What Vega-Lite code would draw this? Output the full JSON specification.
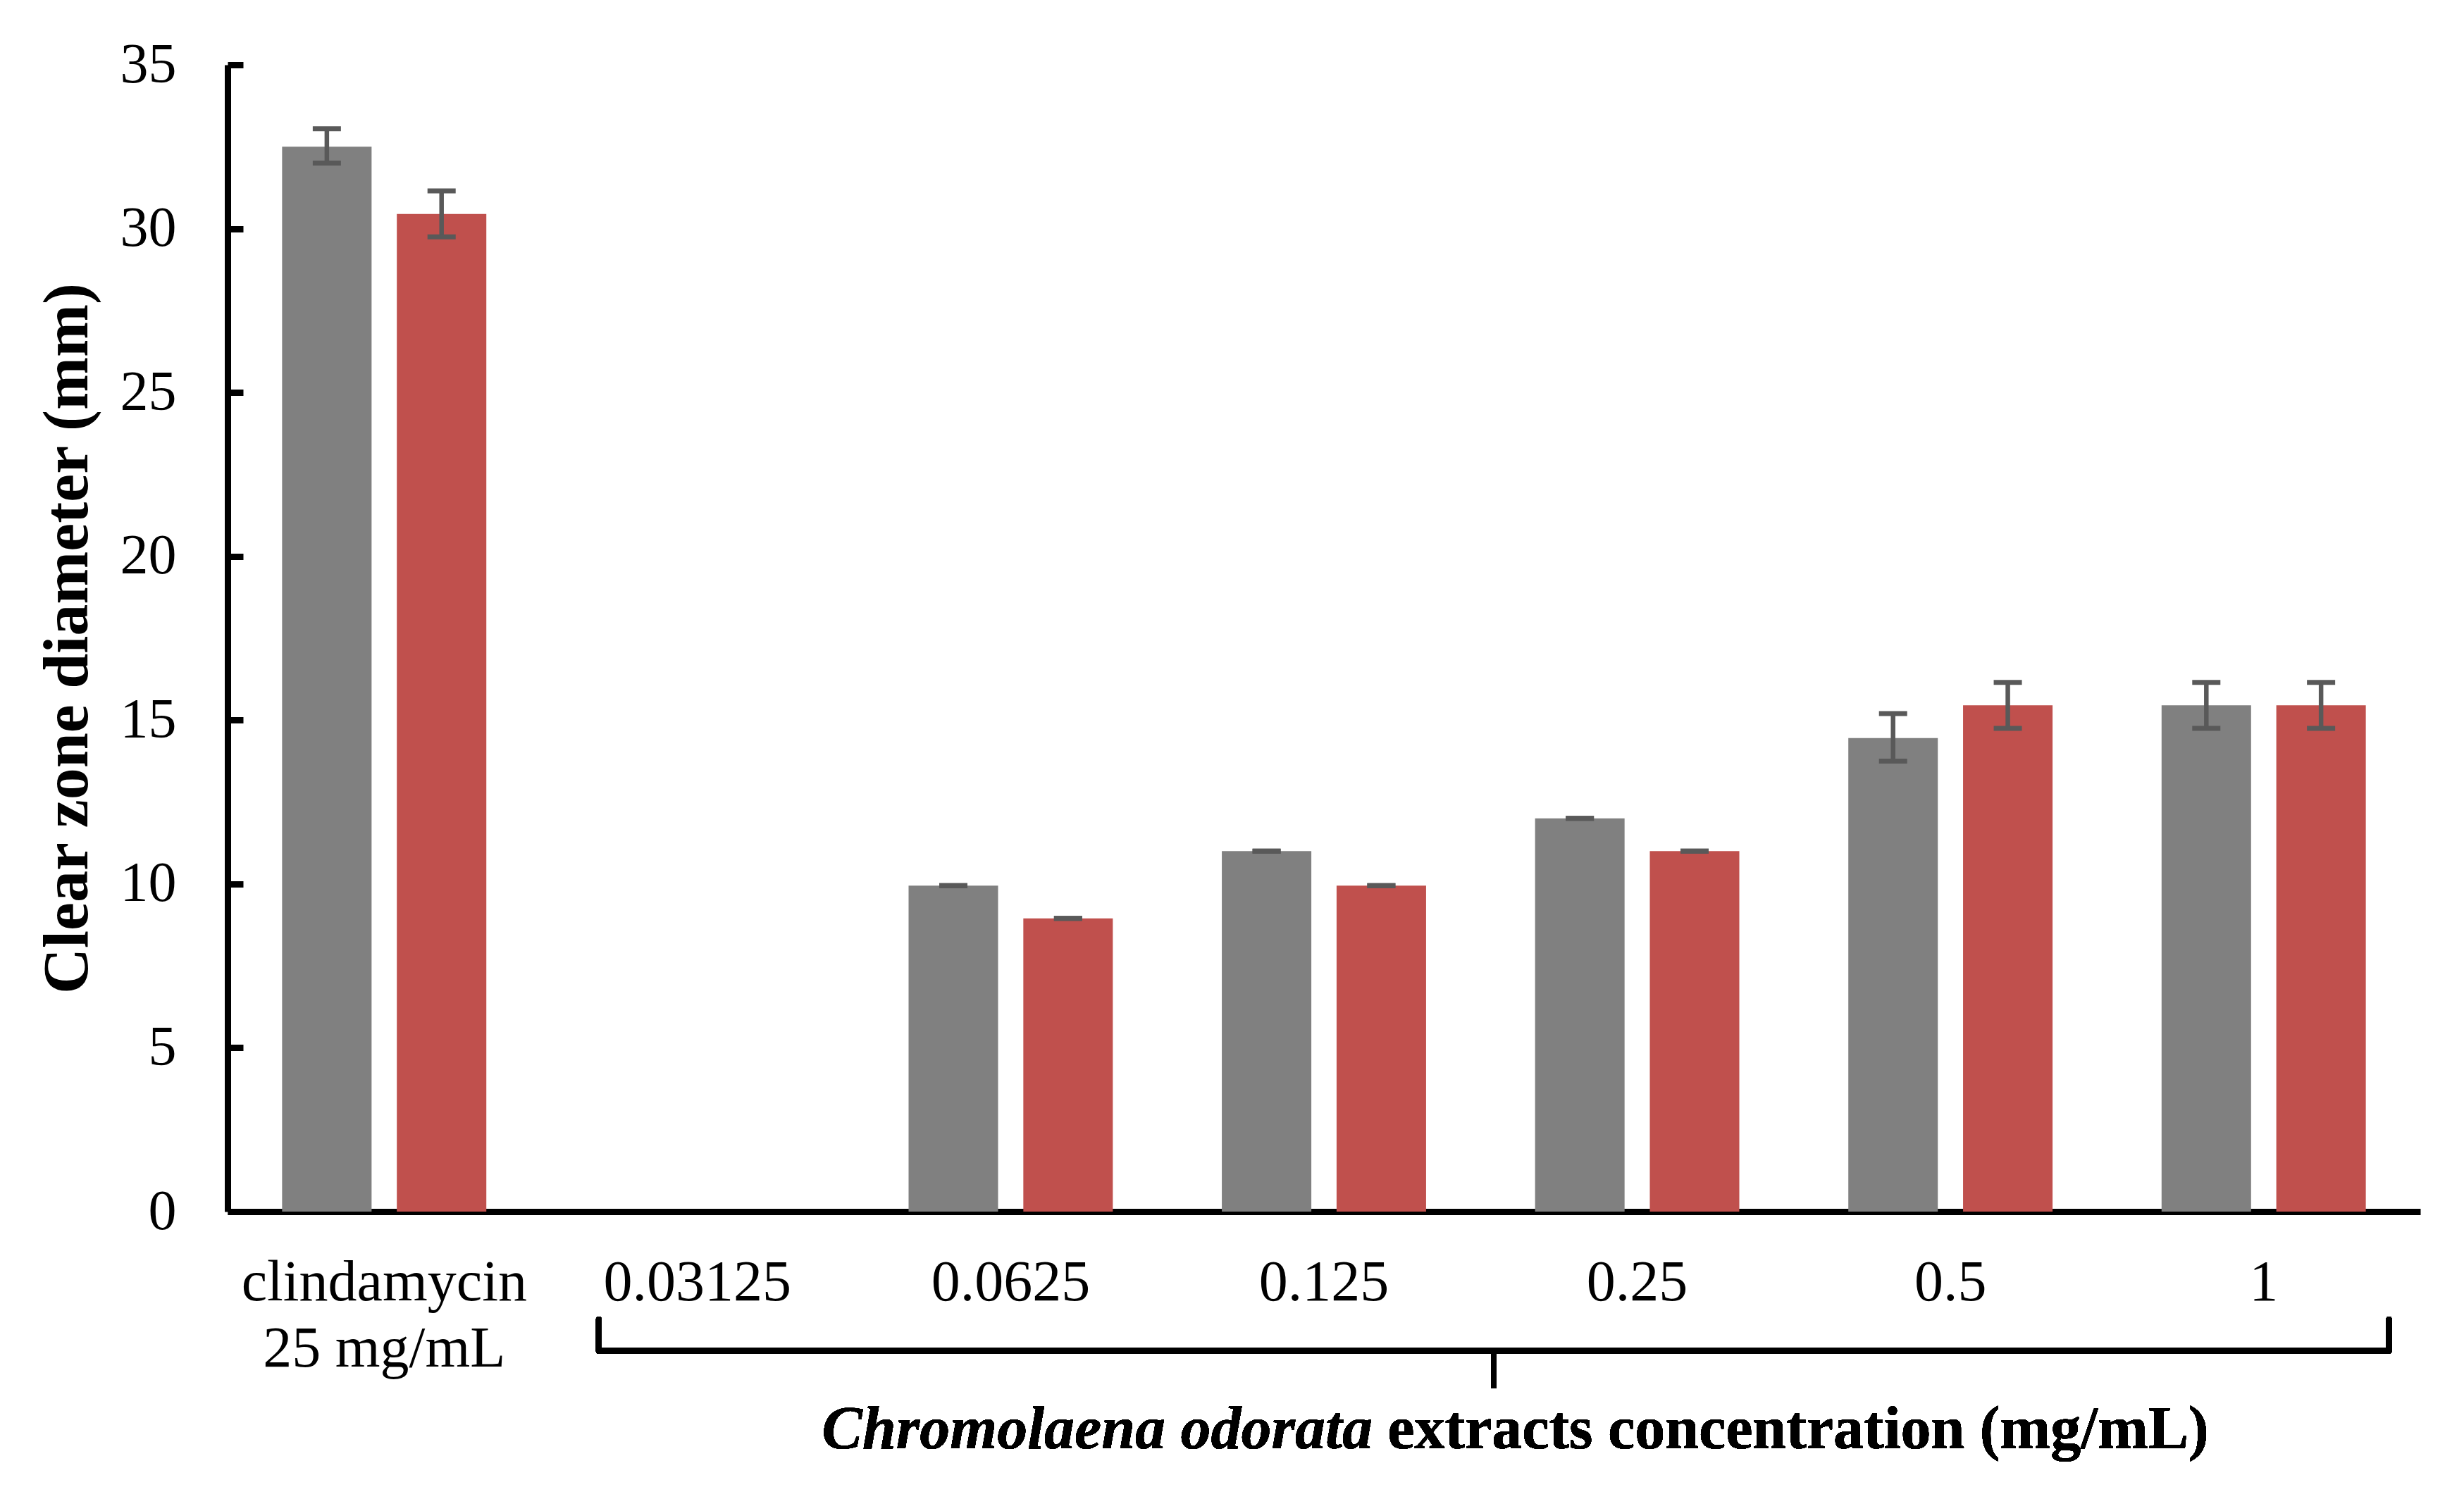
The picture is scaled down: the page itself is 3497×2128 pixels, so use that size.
{
  "$schema": "https://vega.github.io/schema/vega-lite/v6.json",
  "width": 3112,
  "height": 1628,
  "autosize": {"type": "none"},
  "padding": {"left": 323, "top": 92, "right": 62, "bottom": 408},
  "background": "white",
  "config": {"view": {"stroke": null}, "font": "Liberation Serif"},
  "data": {"values": [
    {"cat": "clindamycin 25 mg/mL", "series": "Series 1", "value": 32.5, "low": 32.0, "high": 33.05},
    {"cat": "clindamycin 25 mg/mL", "series": "Series 2", "value": 30.45, "low": 29.75, "high": 31.15},
    {"cat": "0.03125", "series": "Series 1", "value": 0, "low": null, "high": null},
    {"cat": "0.03125", "series": "Series 2", "value": 0, "low": null, "high": null},
    {"cat": "0.0625", "series": "Series 1", "value": 9.95, "low": 9.95, "high": 9.95},
    {"cat": "0.0625", "series": "Series 2", "value": 8.95, "low": 8.95, "high": 8.95},
    {"cat": "0.125", "series": "Series 1", "value": 11.0, "low": 11.0, "high": 11.0},
    {"cat": "0.125", "series": "Series 2", "value": 9.95, "low": 9.95, "high": 9.95},
    {"cat": "0.25", "series": "Series 1", "value": 12.0, "low": 12.0, "high": 12.0},
    {"cat": "0.25", "series": "Series 2", "value": 11.0, "low": 11.0, "high": 11.0},
    {"cat": "0.5", "series": "Series 1", "value": 14.45, "low": 13.75, "high": 15.2},
    {"cat": "0.5", "series": "Series 2", "value": 15.45, "low": 14.75, "high": 16.15},
    {"cat": "1", "series": "Series 1", "value": 15.45, "low": 14.75, "high": 16.15},
    {"cat": "1", "series": "Series 2", "value": 15.45, "low": 14.75, "high": 16.15}
  ]},
  "resolve": {"scale": {"x": "independent"}},
  "layer": [
    {
      "encoding": {
        "x": {
          "field": "cat", "type": "nominal",
          "sort": ["clindamycin 25 mg/mL", "0.03125", "0.0625", "0.125", "0.25", "0.5", "1"],
          "scale": {"paddingInner": 0.348, "paddingOuter": 0.174},
          "axis": {
            "title": null, "ticks": false, "labelAngle": 0, "labelLimit": 0,
            "labelFont": "Liberation Serif", "labelFontSize": 82, "labelColor": "black",
            "labelPadding": 60, "labelLineHeight": 94, "labelBaseline": "top",
            "domainColor": "black", "domainWidth": 9,
            "labelExpr": "datum.value == 'clindamycin 25 mg/mL' ? ['clindamycin', '25 mg/mL'] : datum.label"
          }
        },
        "xOffset": {"field": "series", "type": "nominal", "scale": {"paddingInner": 0.22, "paddingOuter": 0}}
      },
      "layer": [
        {
          "mark": {"type": "bar"},
          "encoding": {
            "y": {
              "field": "value", "type": "quantitative",
              "scale": {"domain": [0, 35], "nice": false},
              "axis": {
                "values": [0, 5, 10, 15, 20, 25, 30, 35],
                "title": "Clear zone diameter (mm)",
                "titleFont": "Liberation Serif", "titleFontSize": 90, "titleFontWeight": "bold", "titleColor": "black",
                "titlePadding": 28,
                "labelFont": "Liberation Serif", "labelFontSize": 80, "labelColor": "black",
                "labelPadding": 95, "labelLimit": 0,
                "grid": false,
                "domainColor": "black", "domainWidth": 9,
                "tickColor": "black", "tickWidth": 9, "tickSize": -22
              }
            },
            "color": {"field": "series", "type": "nominal", "scale": {"domain": ["Series 1", "Series 2"], "range": ["#808080", "#C0504D"]}, "legend": null}
          }
        },
        {
          "transform": [{"filter": "isValid(datum.low)"}],
          "mark": {"type": "rule", "color": "#595959", "strokeWidth": 6.5},
          "encoding": {
            "y": {"field": "low", "type": "quantitative", "scale": {"domain": [0, 35], "nice": false}},
            "y2": {"field": "high"}
          }
        },
        {
          "transform": [{"filter": "isValid(datum.low)"}],
          "mark": {"type": "tick", "color": "#595959", "size": 40, "thickness": 7, "opacity": 1},
          "encoding": {
            "y": {"field": "low", "type": "quantitative", "scale": {"domain": [0, 35], "nice": false}}
          }
        },
        {
          "transform": [{"filter": "isValid(datum.high)"}],
          "mark": {"type": "tick", "color": "#595959", "size": 40, "thickness": 7, "opacity": 1},
          "encoding": {
            "y": {"field": "high", "type": "quantitative", "scale": {"domain": [0, 35], "nice": false}}
          }
        }
      ]
    },
    {
      "layer": [
        {
          "mark": {"type": "rule", "color": "black", "strokeWidth": 8, "strokeCap": "round", "clip": false},
          "encoding": {
            "x": {"datum": 1.185, "type": "quantitative", "scale": {"domain": [0, 7], "nice": false, "zero": false}, "axis": null},
            "y": {"datum": -3.29, "type": "quantitative", "scale": {"domain": [0, 35], "nice": false}},
            "y2": {"datum": -4.25}
          }
        },
        {
          "mark": {"type": "rule", "color": "black", "strokeWidth": 8, "strokeCap": "round", "clip": false},
          "encoding": {
            "x": {"datum": 1.185, "type": "quantitative", "scale": {"domain": [0, 7], "nice": false, "zero": false}, "axis": null},
            "x2": {"datum": 6.9},
            "y": {"datum": -4.25, "type": "quantitative", "scale": {"domain": [0, 35], "nice": false}}
          }
        },
        {
          "mark": {"type": "rule", "color": "black", "strokeWidth": 8, "strokeCap": "round", "clip": false},
          "encoding": {
            "x": {"datum": 6.9, "type": "quantitative", "scale": {"domain": [0, 7], "nice": false, "zero": false}, "axis": null},
            "y": {"datum": -3.29, "type": "quantitative", "scale": {"domain": [0, 35], "nice": false}},
            "y2": {"datum": -4.25}
          }
        },
        {
          "mark": {"type": "rule", "color": "black", "strokeWidth": 7, "strokeCap": "butt", "clip": false},
          "encoding": {
            "x": {"datum": 4.0425, "type": "quantitative", "scale": {"domain": [0, 7], "nice": false, "zero": false}, "axis": null},
            "y": {"datum": -4.25, "type": "quantitative", "scale": {"domain": [0, 35], "nice": false}},
            "y2": {"datum": -5.39}
          }
        },
        {
          "mark": {"type": "text", "text": "Chromolaena odorata", "font": "Liberation Serif", "fontSize": 86, "fontWeight": "bold", "fontStyle": "italic", "align": "right", "baseline": "alphabetic", "color": "black"},
          "encoding": {
            "x": {"datum": 3.655, "type": "quantitative", "scale": {"domain": [0, 7], "nice": false, "zero": false}, "axis": null},
            "y": {"datum": -7.22, "type": "quantitative", "scale": {"domain": [0, 35], "nice": false}}
          }
        },
        {
          "mark": {"type": "text", "text": "extracts concentration (mg/mL)", "font": "Liberation Serif", "fontSize": 86, "fontWeight": "bold", "align": "left", "baseline": "alphabetic", "color": "black"},
          "encoding": {
            "x": {"datum": 3.703, "type": "quantitative", "scale": {"domain": [0, 7], "nice": false, "zero": false}, "axis": null},
            "y": {"datum": -7.22, "type": "quantitative", "scale": {"domain": [0, 35], "nice": false}}
          }
        }
      ]
    }
  ]
}
